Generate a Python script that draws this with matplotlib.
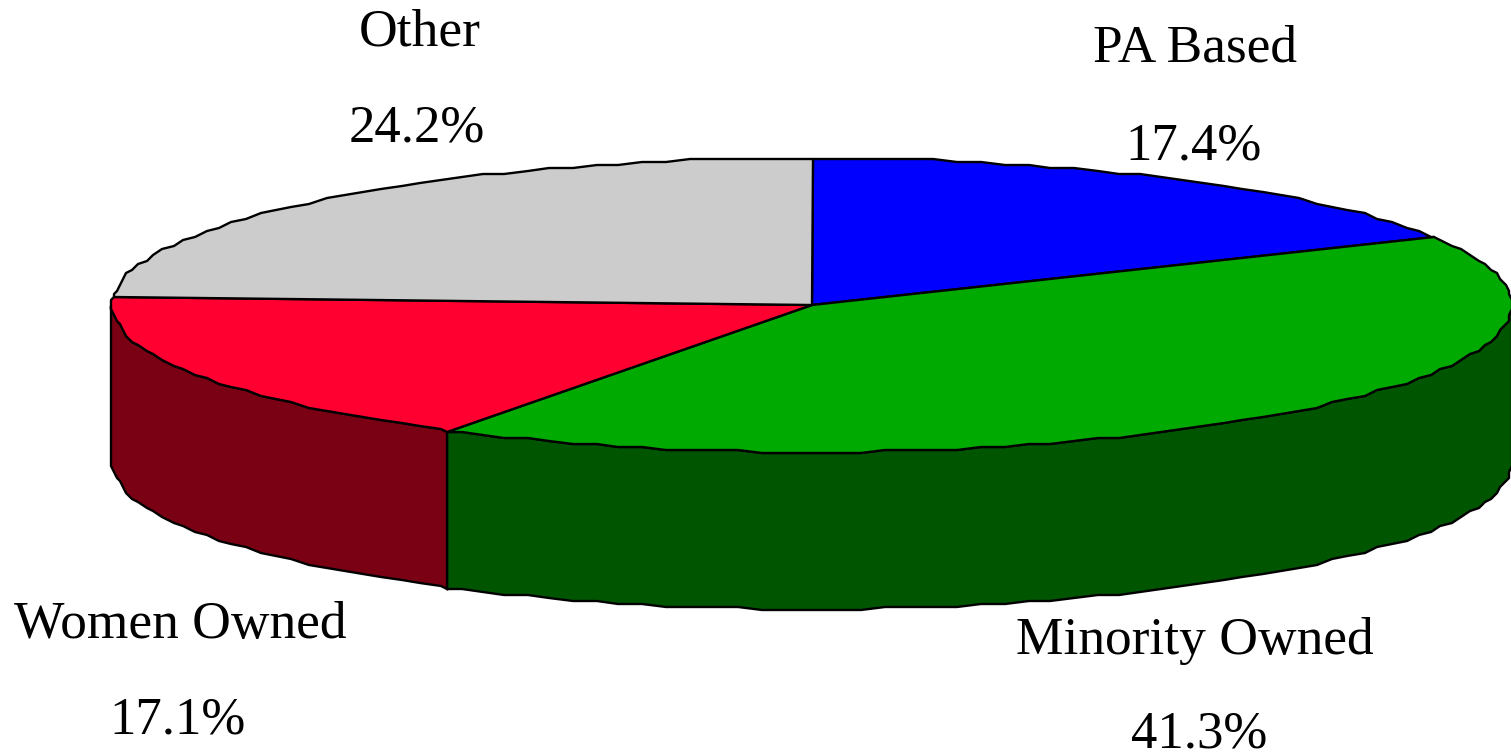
from matplotlib import pyplot as plt
from matplotlib.patches import Polygon
import numpy

labels = ['PA Based', 'Minority Owned', 'Women Owned', 'Other']
shares = [17.4, 41.3, 17.1, 24.2]
colors = ['#0000ff', '#00aa00', '#ff0030', '#cccccc']
side_colors = ['#000080', '#005500', '#7a0014', '#666666']

# label centres in pixels: name then percentage
name_pos = [(1195, 49), (1195, 641), (180, 625), (420, 33)]
value_pos = [(1193, 146), (1199, 735), (178, 720), (417, 128)]

cx, cy = 812, 305
rx, ry = 700, 147
depth = 157
edge_lw = 1.7
snap = 3  # source rim is stair-stepped, a coarse grid gives the same wobble
step = 2.0

def rim(a0, a1):
    # angles are degrees clockwise from 12 o'clock, on one shared grid so
    # the pie top and the side wall follow exactly the same outline
    inner = numpy.arange(numpy.ceil(a0 / step + 1e-6), numpy.floor(a1 / step - 1e-6) + 1) * step
    t = numpy.radians(numpy.concatenate([[a0], inner, [a1]]))
    pts = numpy.column_stack([cx + rx * numpy.sin(t), cy - ry * numpy.cos(t)])
    return numpy.round(pts / snap) * snap

fig = plt.figure(figsize=(15.11, 7.56), dpi=100)
ax = fig.add_axes([0, 0, 1, 1])
ax.set_xlim(0, 1511)
ax.set_ylim(756, 0)
ax.axis('off')

edges = numpy.cumsum([0] + shares) * 3.6

# side wall only shows on the front half (90 to 270 deg)
for i in range(len(shares)):
    a0 = max(edges[i], 90)
    a1 = min(edges[i + 1], 270)
    if a1 <= a0:
        continue
    top = rim(a0, a1)
    bottom = top[::-1] + [0, depth]
    ax.add_patch(Polygon(numpy.vstack([top, bottom]), closed=True,
                         facecolor=side_colors[i], edgecolor='black', lw=edge_lw))

for i in range(len(shares)):
    pts = numpy.vstack([[cx, cy], rim(edges[i], edges[i + 1])])
    ax.add_patch(Polygon(pts, closed=True, facecolor=colors[i],
                         edgecolor='black', lw=edge_lw, joinstyle='round'))

for i in range(len(labels)):
    ax.text(*name_pos[i], labels[i], ha='center', va='center',
            family='Liberation Serif', fontsize=38.4)
    ax.text(*value_pos[i], f'{shares[i]}%', ha='center', va='center',
            family='Liberation Serif', fontsize=38.0)

fig.savefig('out.png', dpi=100)
